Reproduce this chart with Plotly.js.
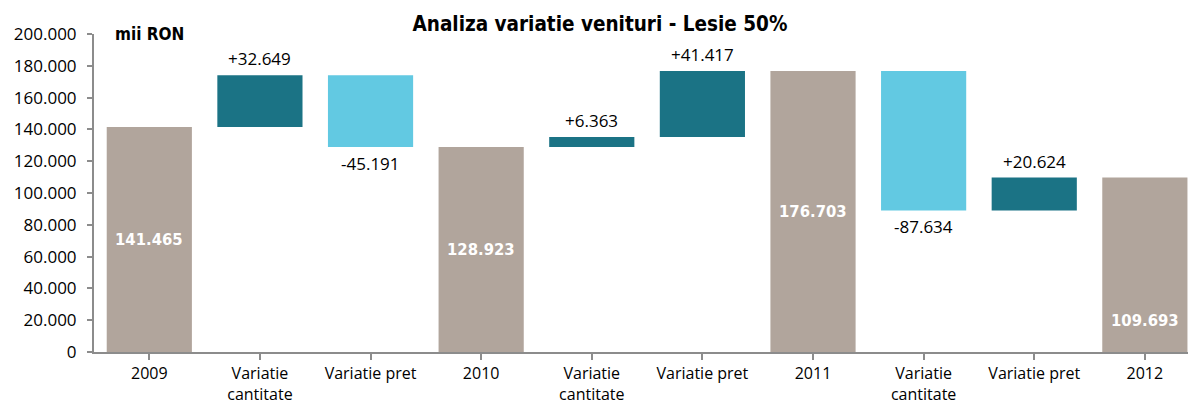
<!DOCTYPE html>
<html><head><meta charset="utf-8">
<script src="https://cdn.plot.ly/plotly-3.0.1.min.js"></script>
<style>html,body{margin:0;padding:0;background:#fff}</style>
</head><body>
<div id="chart" style="width:1188px;height:405px"></div>
<script>
const categories = ["2009", "Variatie<br>cantitate", "Variatie pret", "2010", "Variatie<br>cantitate", "Variatie pret", "2011", "Variatie<br>cantitate", "Variatie pret", "2012"];
const measures = ["absolute", "relative", "relative", "total", "relative", "relative", "total", "relative", "relative", "total"];
const values = [141465, 32649, -45191, 0, 6363, 41417, 0, -87634, 20624, 0];
const labels = ["141.465", "+32.649", "-45.191", "128.923", "+6.363", "+41.417", "176.703", "-87.634", "+20.624", "109.693"];

const FONT = "'Open Sans', 'Noto Sans', sans-serif";
const BFONT = "'DejaVu Sans Condensed', 'DejaVu Sans', sans-serif";
const xs = categories.map((c, i) => i);

let level = 0;
const annotations = [];
measures.forEach((m, i) => {
  let lo, hi, kind;
  if (m === "absolute") { lo = 0; hi = values[i]; level = values[i]; kind = "total"; }
  else if (m === "total") { lo = 0; hi = level; kind = "total"; }
  else { const prev = level; level += values[i]; lo = Math.min(prev, level); hi = Math.max(prev, level); kind = values[i] >= 0 ? "inc" : "dec"; }
  if (kind === "total") {
    const last = i === measures.length - 1;
    annotations.push({x: i, y: last ? lo : (lo + hi) / 2, yanchor: last ? "bottom" : "middle", yshift: last ? 20 : 0,
      text: labels[i], showarrow: false, font: {family: BFONT, size: 16.5, color: "#ffffff", weight: "bold"}});
  } else if (kind === "inc") {
    annotations.push({x: i, y: hi, yanchor: "bottom", yshift: 3, text: labels[i], showarrow: false,
      font: {family: FONT, size: 17, color: "#000000"}});
  } else {
    annotations.push({x: i, y: lo, yanchor: "top", yshift: -3, text: labels[i], showarrow: false,
      font: {family: FONT, size: 17, color: "#000000"}});
  }
});
annotations.push({xref: "paper", yref: "paper", x: 0.0175, y: 1.0, xanchor: "left", yanchor: "middle",
  text: "mii RON", showarrow: false, font: {family: BFONT, size: 17, color: "#000", weight: "bold"}});

const trace = {
  type: "waterfall",
  x: xs,
  measure: measures,
  y: values,
  width: 0.77,
  textinfo: "none",
  hoverinfo: "skip",
  connector: {visible: false},
  increasing: {marker: {color: "#1b7385"}},
  decreasing: {marker: {color: "#62c9e2"}},
  totals: {marker: {color: "#b1a59c"}}
};

const layout = {
  width: 1188, height: 405,
  margin: {l: 94, r: 0, t: 34, b: 53},
  paper_bgcolor: "#fff", plot_bgcolor: "#fff",
  separators: ",.",
  showlegend: false,
  title: {text: "<b>Analiza variatie venituri - Lesie 50%</b>", x: 0.505, xanchor: "center", y: 0.94, yanchor: "middle",
    font: {family: BFONT, size: 20.5, color: "#000"}},
  font: {family: FONT, size: 17, color: "#000"},
  xaxis: {
    range: [-0.5, 9.39], tickmode: "array", tickvals: xs, ticktext: categories,
    tickson: "boundaries", ticks: "outside", ticklen: 6, tickcolor: "#8c8c8c", tickwidth: 2,
    ticklabelstandoff: 0,
    showline: true, linecolor: "#8c8c8c", linewidth: 2, showgrid: false, zeroline: false,
    tickfont: {family: FONT, size: 16}, fixedrange: true
  },
  yaxis: {
    range: [0, 200000], tickmode: "linear", dtick: 20000, tickformat: ",d",
    ticks: "outside", ticklen: 5, tickcolor: "#8c8c8c", tickwidth: 2,
    ticklabelstandoff: 7,
    showline: true, linecolor: "#8c8c8c", linewidth: 2, showgrid: false, zeroline: false,
    tickfont: {family: FONT, size: 17}, fixedrange: true
  },
  annotations: annotations
};

Plotly.newPlot("chart", [trace], layout, {displayModeBar: false, staticPlot: true});
</script>
</body></html>
